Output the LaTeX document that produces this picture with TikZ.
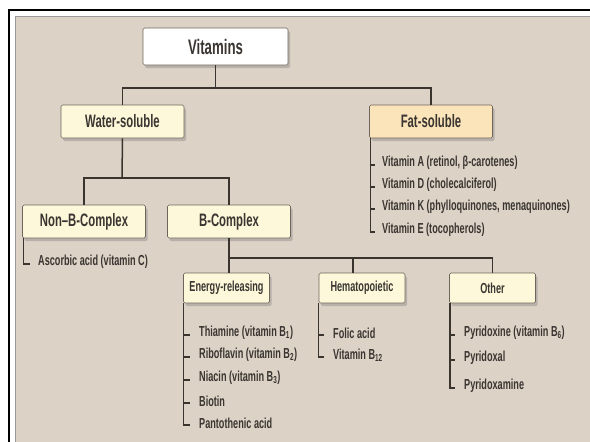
\documentclass[tikz,border=0pt]{standalone}
\usepackage{fontspec}
\setmainfont{Liberation Sans}
\newfontfamily\condfont{Liberation Sans}[FakeStretch=0.63]
\usepackage{tikz}
\usetikzlibrary{shadows,positioning}
\definecolor{paper}{HTML}{DCD2C6}
\definecolor{paleyellow}{HTML}{FCF8D9}
\definecolor{peach}{HTML}{FCE4BA}
\definecolor{boxline}{HTML}{6E655C}
\definecolor{ink}{HTML}{3A3531}
\definecolor{linkc}{HTML}{3A342F}

\begin{document}
\begin{tikzpicture}[x=1pt,y=-1pt,
  box/.style={draw=boxline, line width=0.6pt, rounded corners=1.5pt, inner sep=0pt, text=ink,
    drop shadow={opacity=0.4, shadow xshift=2pt, shadow yshift=-3pt}},
  topbox/.style={box, fill=white, minimum width=145pt, minimum height=37pt,
    font=\condfont\bfseries\fontsize{21}{21}\selectfont},
  mainbox/.style={box, fill=paleyellow, minimum width=123pt, minimum height=33pt,
    font=\condfont\bfseries\fontsize{18}{18}\selectfont},
  subbox/.style={box, fill=paleyellow, minimum width=86pt, minimum height=30pt,
    font=\condfont\bfseries\fontsize{14.5}{14.5}\selectfont},
  item/.style={anchor=west, inner sep=0pt, text=ink,
    font=\condfont\bfseries\fontsize{14.5}{14.5}\selectfont},
  link/.style={draw=linkc, line width=1.5pt}]

\fill[white] (0,0) rectangle (590,442);
\useasboundingbox (0,0) rectangle (590,442);
\draw[line width=2.2pt] (9,442) -- (9,10) -- (590,10);
\fill[paper] (15,16) rectangle (590,442);
\draw[gray!80, line width=1pt] (15.5,442) -- (15.5,16.5) -- (590,16.5);

%boxes
\node[topbox] (VIT) at (215.5,46.5) {Vitamins};
\node[mainbox] (WAT) at (122.5,121.5) {Water-soluble};
\node[mainbox, fill=peach] (FAT) at (431,121.5) {Fat-soluble};
\node[mainbox] (NONB) at (84,221.5) {Non–B-Complex};
\node[mainbox] (BCX) at (229,221.5) {B-Complex};
\node[subbox] (ENR) at (226.5,288) {Energy-releasing};
\node[subbox] (HEM) at (362,288) {Hematopoietic};
\node[subbox] (OTH) at (492.5,288) {Other};

%lists
\node[item] (FA) at (382,163) {Vitamin A (retinol, β-carotenes)};
\node[item] (FD) at (382,185) {Vitamin D (cholecalciferol)};
\node[item] (FK) at (382,207) {Vitamin K (phylloquinones, menaquinones)};
\node[item] (FE) at (382,230) {Vitamin E (tocopherols)};
\node[item] (NC) at (38,262) {Ascorbic acid (vitamin C)};
\node[item] (E1) at (199,333) {Thiamine (vitamin B\textsubscript{1})};
\node[item] (E2) at (199,355) {Riboflavin (vitamin B\textsubscript{2})};
\node[item] (E3) at (199,378) {Niacin (vitamin B\textsubscript{3})};
\node[item] (E4) at (199,401) {Biotin};
\node[item] (E5) at (199,423) {Pantothenic acid};
\node[item] (H1) at (333,333) {Folic acid};
\node[item] (H2) at (333,355) {Vitamin B\textsubscript{12}};
\node[item] (O1) at (464,333) {Pyridoxine (vitamin B\textsubscript{6})};
\node[item] (O2) at (464,358) {Pyridoxal};
\node[item] (O3) at (464,386) {Pyridoxamine};

%tree
\coordinate (JV) at (215.5,88);
\coordinate (JW) at (122,178);
\coordinate (JB) at (229,258);
\draw[link] (VIT.south) -- (JV);
\draw[link] (WAT.north) |- (JV) -| (FAT.north);
\draw[link] (WAT.south) -- (JW);
\draw[link] (NONB.north) |- (JW) -| (BCX.north);
\draw[link] (BCX.south) -- (JB);
\draw[link] (JB) -- (JB |- ENR.north);
\draw[link] ([xshift=-9pt]HEM.north) |- (JB) -| (OTH.north);

\foreach \i in {FA,FD,FK,FE}
  \draw[link] ([xshift=1.5pt]FAT.south west) |- ([shift={(-7pt,-2pt)}]\i.west);
\draw[link] ([xshift=1.5pt]NONB.south west) |- ([shift={(-8pt,-2pt)}]NC.west);
\foreach \i in {E1,E2,E3,E4,E5}
  \draw[link] ([xshift=0.5pt]ENR.south west) |- ([shift={(-9pt,-2pt)}]\i.west);
\foreach \i in {H1,H2}
  \draw[link] ([xshift=0pt]HEM.south west) |- ([shift={(-9pt,-2pt)}]\i.west);
\foreach \i in {O1,O2,O3}
  \draw[link] ([xshift=1pt]OTH.south west) |- ([shift={(-9pt,-2pt)}]\i.west);

\end{tikzpicture}
\end{document}
